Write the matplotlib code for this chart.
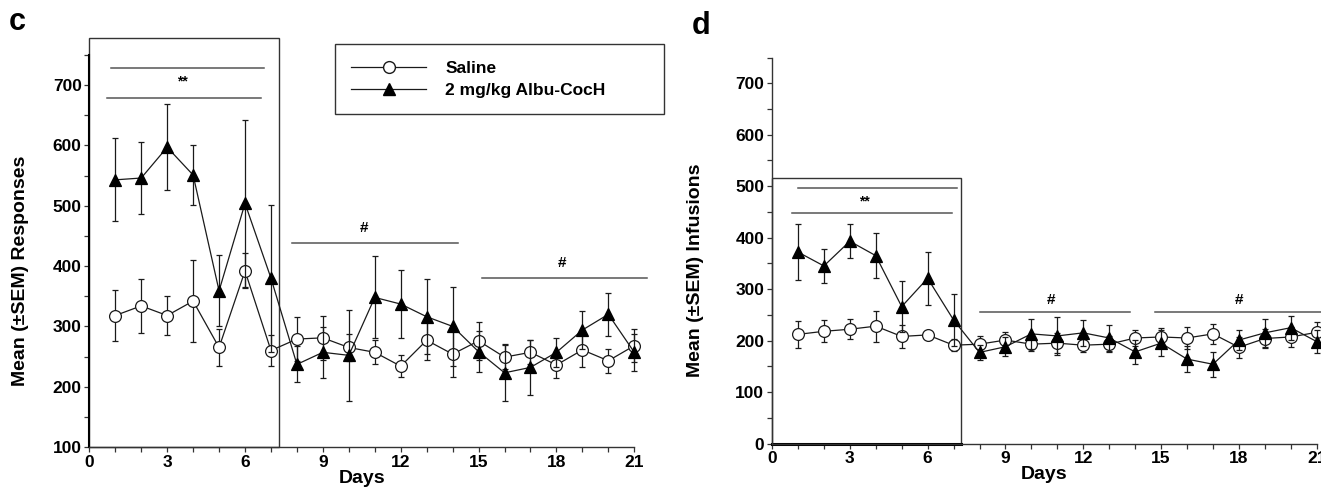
import matplotlib
matplotlib.use("Agg")
import matplotlib.pyplot as plt
from matplotlib.patches import Rectangle
from matplotlib.lines import Line2D
from matplotlib.ticker import MultipleLocator
import numpy as np

plt.rcParams['font.family'] = ['Liberation Sans', 'DejaVu Sans']
plt.rcParams['font.weight'] = 'bold'

days = list(range(1, 22))
x_ticks = [0, 3, 6, 9, 12, 15, 18, 21]
series_labels = ["Saline", "2 mg/kg Albu-CocH"]

# Panel c: responses
c_saline = [318, 334, 318, 342, 265, 392, 260, 279, 281, 265, 257, 234, 277, 254,
            276, 249, 257, 236, 261, 243, 268]
c_saline_sem = [43, 45, 32, 68, 30, 29, 25, 36, 37, 22, 20, 18, 32, 38,
                32, 20, 20, 22, 29, 20, 27]
c_albu = [543, 546, 597, 551, 359, 504, 380, 237, 257, 252, 348, 337, 316, 300,
          258, 223, 232, 257, 294, 320, 257]
c_albu_sem = [69, 59, 71, 50, 59, 138, 122, 30, 42, 75, 68, 57, 62, 66,
              34, 47, 45, 24, 31, 36, 31]
c_yticks = [100, 200, 300, 400, 500, 600, 700]

# Panel d: infusions
d_saline = [212, 218, 222, 228, 208, 211, 191, 193, 201, 193, 195, 191, 193, 205,
            207, 205, 213, 187, 204, 207, 216]
d_saline_sem = [26, 21, 19, 30, 23, 8, 12, 15, 16, 14, 20, 14, 15, 15,
                18, 22, 20, 20, 18, 20, 20]
d_albu = [372, 345, 393, 365, 266, 321, 240, 177, 188, 213, 209, 215, 205, 178,
          195, 164, 154, 201, 215, 225, 198]
d_albu_sem = [55, 33, 33, 44, 50, 52, 50, 15, 18, 29, 37, 25, 26, 24,
              25, 26, 24, 19, 27, 23, 23]
d_yticks = [0, 100, 200, 300, 400, 500, 600, 700]

W, H = 1321, 496
fig = plt.figure(figsize=(W / 100, H / 100), dpi=100)

ax_c = fig.add_axes([89.3 / W, (H - 447) / H, 545 / W, 392 / H])
ax_d = fig.add_axes([772 / W, (H - 443.5) / H, 544.7 / W, 386 / H])

LINE = '#1a1a1a'
GREY = '#555555'
TICK_FS = 12.5
LABEL_FS = 14


def style_axis(ax, ylim, yticks):
    ax.set_xlim(0, 21)
    ax.set_ylim(*ylim)
    ax.set_xticks(x_ticks)
    ax.set_yticks(yticks)
    ax.xaxis.set_minor_locator(MultipleLocator(1))
    ax.yaxis.set_minor_locator(MultipleLocator(50))
    for s in ['top', 'right']:
        ax.spines[s].set_visible(False)
    for s in ['left', 'bottom']:
        ax.spines[s].set_color('#333333')
        ax.spines[s].set_linewidth(1.0)
    ax.tick_params(which='both', direction='out', length=3.5, width=0.9,
                   color='#333333', labelsize=TICK_FS, pad=2)
    for lab in ax.get_xticklabels() + ax.get_yticklabels():
        lab.set_fontweight('bold')
    ax.set_xlabel('Days', fontsize=LABEL_FS, fontweight='bold', labelpad=0)


def plot_series(ax, sal, sal_sem, alb, alb_sem):
    ax.errorbar(days, sal, yerr=sal_sem, fmt='-o', color=LINE, ecolor=LINE,
                mfc='white', mec=LINE, ms=8.5, mew=0.9, lw=0.9,
                elinewidth=0.9, capsize=2, capthick=0.9, zorder=3, clip_on=False)
    ax.errorbar(days, alb, yerr=alb_sem, fmt='-^', color=LINE, ecolor=LINE,
                mfc='black', mec='black', ms=9, mew=0.9, lw=0.9,
                elinewidth=0.9, capsize=2, capthick=0.9, zorder=4, clip_on=False)


# ---------- panel c ----------
style_axis(ax_c, (100, 750), c_yticks)
plot_series(ax_c, c_saline, c_saline_sem, c_albu, c_albu_sem)
ax_c.spines['left'].set_color('black')
ax_c.spines['left'].set_linewidth(1.5)
ax_c.add_patch(Rectangle((0, 100), 7.3, 679, fill=False, ec='#333333', lw=1.0,
                         clip_on=False, zorder=2))
ax_c.plot([0.82, 6.73], [729, 729], color=GREY, lw=1.1, clip_on=False)
ax_c.plot([0.67, 6.63], [678, 678], color=GREY, lw=1.1, clip_on=False)
ax_c.text(3.6, 706, '**', ha='center', va='center', fontsize=10, fontweight='bold')
ax_c.plot([7.81, 14.2], [439, 439], color=GREY, lw=1.1, clip_on=False)
ax_c.text(10.6, 463, '#', ha='center', va='center', fontsize=11, fontweight='bold')
ax_c.plot([15.13, 21.5], [380, 380], color=GREY, lw=1.1, clip_on=False)
ax_c.text(18.2, 405, '#', ha='center', va='center', fontsize=11, fontweight='bold')
ax_c.set_ylabel('Mean (±SEM) Responses', fontsize=LABEL_FS, fontweight='bold')
ax_c.yaxis.set_label_coords(-0.11, 0.45)

handles = [Line2D([], [], color=LINE, lw=0.9, marker='o', mfc='white', mec=LINE, ms=8.5),
           Line2D([], [], color=LINE, lw=0.9, marker='^', mfc='black', mec='black', ms=9)]
leg = ax_c.legend(handles, series_labels, loc='upper left',
                  bbox_to_anchor=(335 / W, 1 - 44 / H, (664 - 335) / W, 0),
                  bbox_transform=fig.transFigure, mode='expand', borderaxespad=0,
                  fancybox=False, framealpha=1, edgecolor='#333333',
                  handlelength=4.3, handletextpad=1.1, borderpad=0.95,
                  labelspacing=0.4, prop={'weight': 'bold', 'size': 12.5})
leg.get_frame().set_linewidth(1.0)

# ---------- panel d ----------
style_axis(ax_d, (0, 750), d_yticks)
plot_series(ax_d, d_saline, d_saline_sem, d_albu, d_albu_sem)
ax_d.add_patch(Rectangle((0, 0), 7.3, 515, fill=False, ec='#333333', lw=1.0,
                         clip_on=False, zorder=2))
ax_d.plot([0, 7.3], [0, 0], color='black', lw=2.2, clip_on=False, zorder=2.5)
ax_d.plot([0.99, 7.12], [497, 497], color=GREY, lw=1.1, clip_on=False)
ax_d.plot([0.79, 6.93], [447, 447], color=GREY, lw=1.1, clip_on=False)
ax_d.text(3.55, 470, '**', ha='center', va='center', fontsize=10, fontweight='bold')
ax_d.plot([8.0, 13.8], [256, 256], color=GREY, lw=1.1, clip_on=False)
ax_d.text(10.75, 279, '#', ha='center', va='center', fontsize=11, fontweight='bold')
ax_d.plot([14.78, 21.3], [255, 255], color=GREY, lw=1.1, clip_on=False)
ax_d.text(18.0, 279, '#', ha='center', va='center', fontsize=11, fontweight='bold')
ax_d.set_ylabel('Mean (±SEM) Infusions', fontsize=LABEL_FS, fontweight='bold')
ax_d.yaxis.set_label_coords(-0.125, 0.45)

fig.text(17 / W, 1 - 22 / H, 'c', fontsize=22, fontweight='bold', ha='center', va='center')
fig.text(701 / W, 1 - 26 / H, 'd', fontsize=22, fontweight='bold', ha='center', va='center')

fig.savefig('out.png', dpi=100)
